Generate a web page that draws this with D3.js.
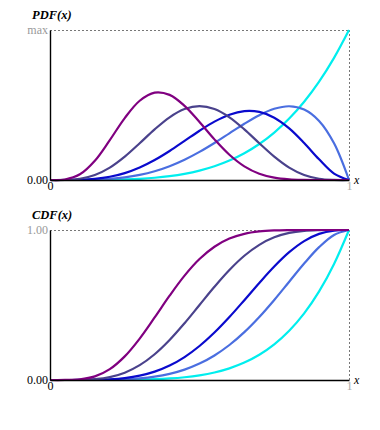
<!DOCTYPE html>
<html>
<head>
<meta charset="utf-8">
<script src="https://cdn.jsdelivr.net/npm/d3@7"></script>
<style>
  html, body { margin: 0; padding: 0; background: #fff; }
  svg { display: block; }
</style>
</head>
<body>
<svg id="chart" width="380" height="430"></svg>
<script>
// ---- data ----
const xs = [0,0.05,0.1,0.15,0.2,0.25,0.3,0.35,0.4,0.45,0.5,0.55,0.6,0.65,0.7,0.75,0.8,0.85,0.9,0.95,1];
const seriesNames = ["cyan curve","royal blue curve","blue curve","slate curve","purple curve"];
const seriesColors = ["#00eeee","#4a6ee0","#0a0acd","#4a428c","#800080"];

const pdfCyan   = [0,0.00003,0.0005,0.0025,0.008,0.0195,0.0405,0.075,0.128,0.205,0.3125,0.4575,0.648,0.8925,1.2005,1.582,2.048,2.610,3.2805,4.0725,5];
const pdfRoyal  = [0,0.0002,0.0027,0.0129,0.0384,0.0879,0.1701,0.2926,0.4608,0.6766,0.9375,1.2353,1.5552,1.8743,2.1609,2.3730,2.4576,2.3490,1.9683,1.2218,0];
const pdfBlue   = [0,0.0006,0.0085,0.0384,0.1075,0.2307,0.4168,0.6657,0.9677,1.3025,1.6406,1.9457,2.1773,2.2960,2.2690,2.0764,1.7203,1.2332,0.6889,0.2138,0];
const pdfSlate  = [0,0.0032,0.0413,0.1665,0.4129,0.7787,1.2252,1.6876,2.0902,2.3640,2.4609,2.3640,2.0902,1.6876,1.2252,0.7787,0.4129,0.1665,0.0413,0.0032,0];
const pdfPurple = [0,0.0173,0.1894,0.6427,1.3288,2.0648,2.6416,2.9131,2.8379,2.4722,1.9336,1.3541,0.8409,0.4548,0.2079,0.0765,0.0208,0.0035,0.0003,0,0];

const cdfCyan   = [0,0,0.00001,0.00008,0.00032,0.00098,0.00243,0.00525,0.01024,0.01845,0.03125,0.05033,0.07776,0.11603,0.16807,0.23730,0.32768,0.44371,0.59049,0.77378,1];
const cdfRoyal  = [0,0,0.00006,0.0004,0.0016,0.0046,0.0109,0.0223,0.0410,0.0692,0.1094,0.1636,0.2333,0.3191,0.4202,0.5339,0.6554,0.7765,0.8857,0.9672,1];
const cdfBlue   = [0,0.00001,0.0002,0.0012,0.0047,0.0129,0.0288,0.0556,0.0963,0.1529,0.2266,0.3164,0.4199,0.5323,0.6471,0.7564,0.8520,0.9262,0.9743,0.9962,1];
const cdfSlate  = [0,0.00003,0.0009,0.0056,0.0196,0.0489,0.0988,0.1717,0.2666,0.3786,0.5,0.6214,0.7334,0.8283,0.9012,0.9511,0.9804,0.9944,0.9991,1,1];
const cdfPurple = [0,0.0002,0.0043,0.0239,0.0726,0.1576,0.2763,0.4167,0.5618,0.6956,0.8062,0.8883,0.9427,0.9745,0.9905,0.9972,0.9994,0.9999,1,1,1];

const pdfSeries = [pdfCyan, pdfRoyal, pdfBlue, pdfSlate, pdfPurple];
const cdfSeries = [cdfCyan, cdfRoyal, cdfBlue, cdfSlate, cdfPurple];

const xTickValues = [0, 1];
const xTickLabels = ["0", "1"];
const pdfMax = 5;
const pdfTickLabels = ["0.00", "max"];
const cdfTickLabels = ["0.00", "1.00"];

// ---- drawing ----
const FONT = "Liberation Serif, DejaVu Serif, serif";
const svg = d3.select("#chart");
const left = 50, right = 349;
const x = d3.scaleLinear().domain([0, 1]).range([left, right]);

function panel(top, bottom, yMax, series, title, yLabels) {
  const y = d3.scaleLinear().domain([0, yMax]).range([bottom, top]);
  const g = svg.append("g");

  // dashed frame (top & right)
  g.append("line")
    .attr("x1", x(0)).attr("x2", x(1)).attr("y1", y(yMax) + 0.5).attr("y2", y(yMax) + 0.5)
    .attr("stroke", "#777").attr("stroke-width", 1).attr("stroke-dasharray", "2,2");
  g.append("line")
    .attr("x1", x(1) + 0.5).attr("x2", x(1) + 0.5).attr("y1", y(yMax)).attr("y2", y(0))
    .attr("stroke", "#777").attr("stroke-width", 1).attr("stroke-dasharray", "2,2");

  // curves
  const line = d3.line()
    .x((d, i) => x(xs[i]))
    .y(d => y(Math.max(0, d)))
    .curve(d3.curveCatmullRom.alpha(0.5));
  series.forEach((s, k) => {
    g.append("path")
      .attr("d", line(s))
      .attr("fill", "none")
      .attr("stroke", seriesColors[k])
      .attr("stroke-width", 2.2)
      .attr("stroke-linejoin", "round");
  });

  // left axis
  const yAxis = d3.axisLeft(y)
    .tickValues([0, yMax])
    .tickSize(0).tickSizeOuter(0).tickPadding(2)
    .tickFormat((d, i) => yLabels[i]);
  const ya = g.append("g").attr("transform", `translate(${left},0)`).call(yAxis)
    .attr("font-family", FONT).attr("font-size", 12);
  ya.select(".domain").attr("stroke", "#000").attr("stroke-width", 1.4);
  ya.selectAll("text")
    .attr("dy", "0.3em")
    .attr("fill", (d, i) => i === 0 ? "#000" : "#999");

  // bottom axis
  const xAxis = d3.axisBottom(x)
    .tickValues(xTickValues)
    .tickSize(0).tickSizeOuter(0).tickPadding(1)
    .tickFormat((d, i) => xTickLabels[i]);
  const xa = g.append("g").attr("transform", `translate(0,${bottom})`).call(xAxis)
    .attr("font-family", FONT).attr("font-size", 12);
  xa.select(".domain").attr("stroke", "#000").attr("stroke-width", 1.4);
  xa.selectAll("text")
    .attr("fill", (d, i) => i === 0 ? "#000" : "#aaa");

  // axis titles
  g.append("text")
    .attr("x", right + 5).attr("y", bottom + 4)
    .attr("font-family", FONT).attr("font-size", 12).attr("font-style", "italic")
    .text("x");
  g.append("text")
    .attr("x", 32).attr("y", top - 11)
    .attr("font-family", FONT).attr("font-size", 12.5).attr("font-style", "italic").attr("font-weight", "bold")
    .text(title);
}

panel(30, 180, pdfMax, pdfSeries, "PDF(x)", pdfTickLabels);
panel(230, 380, 1, cdfSeries, "CDF(x)", cdfTickLabels);
</script>
</body>
</html>
